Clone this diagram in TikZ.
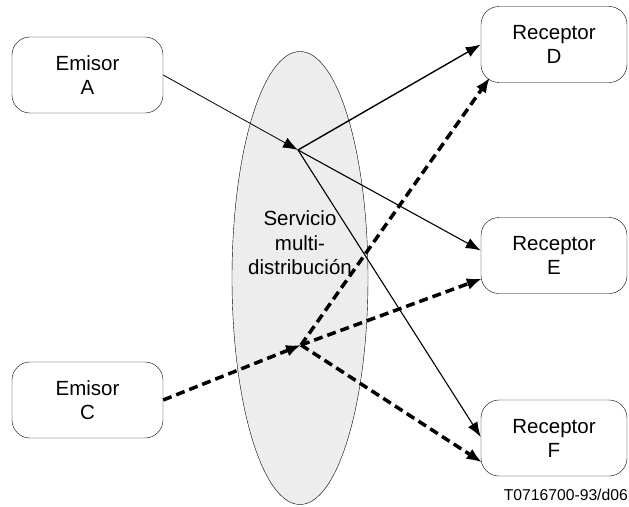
\documentclass[tikz,border=0pt]{standalone}
\usepackage{fontspec}
\setmainfont{Liberation Sans}
\usetikzlibrary{calc,shapes,arrows,arrows.meta}

\tikzset{
    caja/.style={draw, rounded corners=18pt, minimum height=76pt, inner sep=0pt,
        align=center, font=\fontsize{20.5}{24}\selectfont},
    uni/.style={-{Latex[length=15pt,width=11pt]}},
    multi/.style={-{Latex[length=15pt,width=12pt]}, line width=3.5pt,
        dash pattern=on 9pt off 5pt},
}

\begin{document}
\begin{tikzpicture}[x=1pt,y=-1pt]
        \useasboundingbox (0,0) rectangle (629,506);
        \node[draw, ellipse, fill=black!7, minimum width=136pt, minimum height=453pt,
            inner sep=0pt] (serv) at (300,278) {};
        \node[align=center, font=\fontsize{20.5}{24.5}\selectfont] (servtxt) at (300,243)
            {Servicio\\multi-\\distribución};
        \node[caja, minimum width=151pt] (emA) at (87.5,75) {Emisor\\A};
        \node[caja, minimum width=151pt] (emC) at (87.5,400) {Emisor\\C};
        \node[caja, minimum width=146pt] (recD) at (554,44.5) {Receptor\\D};
        \node[caja, minimum width=146pt] (recE) at (554,255.5) {Receptor\\E};
        \node[caja, minimum width=146pt] (recF) at (554,438) {Receptor\\F};
        \coordinate (hubA) at (298,150);
        \coordinate (hubC) at (301,345);
        \draw[uni, line width=0.8pt] (emA.east) -- (hubA);
        \draw[uni, line width=1.4pt] (hubA) -- (recD.west);
        \draw[uni, line width=1.1pt] (hubA) -- ([yshift=5pt]recE.west);
        \draw[uni, line width=1.1pt] (hubA) -- ([yshift=1pt]recF.west);
        \draw[multi] (emC.east) -- (hubC);
        \foreach \r/\dx/\dy in {recD/9/5, recE/1/15, recF/1/14}
        \draw[multi] (hubC) -- ([xshift=\dx pt,yshift=\dy pt]\r.south west);
        \node[anchor=base east, inner sep=0pt, font=\fontsize{15.7}{18}\selectfont]
            (ref) at (628,500) {T0716700-93/d06};
    \end{tikzpicture}
\end{document}
